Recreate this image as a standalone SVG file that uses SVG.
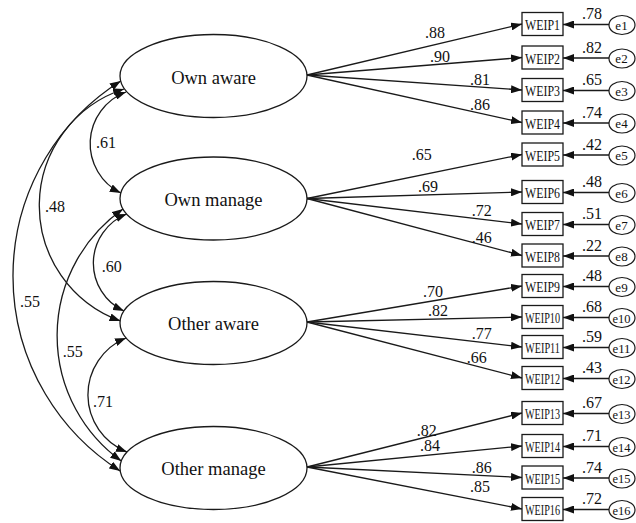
<svg xmlns="http://www.w3.org/2000/svg" width="636" height="523" viewBox="0 0 636 523" font-family="'Liberation Serif', 'Times New Roman', serif">
<style>
text{font-family:'Liberation Serif','Times New Roman',serif;fill:#111}
.lat ellipse{fill:#fff;stroke:#1a1a1a;stroke-width:1.3}
.lat text{font-size:18.5px;text-anchor:middle}
.obs rect{fill:#fff;stroke:#1a1a1a;stroke-width:1.3}
.obs text{font-size:15.5px;text-anchor:middle}
.err ellipse{fill:#fff;stroke:#1a1a1a;stroke-width:1.2}
.err text{font-size:13px;text-anchor:middle}
.c path,.c line{fill:none;stroke:#1a1a1a;stroke-width:1.3;marker-end:url(#ah)}
.c path.cov{marker-start:url(#ah)}
.lbl text{font-size:16px}
</style>
<defs>
<marker id="ah" markerUnits="userSpaceOnUse" markerWidth="12" markerHeight="8" refX="11" refY="4" orient="auto-start-reverse" viewBox="0 0 12 8">
<path d="M0,0 L11,4 L0,8 Z" fill="#111"/>
</marker>
</defs>

<g id="connectors" class="c">
<line x1="307" y1="75" x2="522" y2="24"/>
<line x1="307" y1="75" x2="522" y2="57.5"/>
<line x1="307" y1="75" x2="522" y2="90"/>
<line x1="307" y1="75" x2="522" y2="122.5"/>
<line x1="307" y1="198.5" x2="522" y2="154.5"/>
<line x1="307" y1="198.5" x2="522" y2="192"/>
<line x1="307" y1="198.5" x2="522" y2="224"/>
<line x1="307" y1="198.5" x2="522" y2="255.5"/>
<line x1="307" y1="322" x2="522" y2="286"/>
<line x1="307" y1="322" x2="522" y2="317"/>
<line x1="307" y1="322" x2="522" y2="347"/>
<line x1="307" y1="322" x2="522" y2="378"/>
<line x1="307" y1="467" x2="522" y2="413"/>
<line x1="307" y1="467" x2="522" y2="446"/>
<line x1="307" y1="467" x2="522" y2="477.5"/>
<line x1="307" y1="467" x2="522" y2="509"/>
<line x1="609" y1="24.5" x2="563" y2="24.5"/>
<line x1="609" y1="58" x2="563" y2="58"/>
<line x1="609" y1="90.5" x2="563" y2="90.5"/>
<line x1="609" y1="123" x2="563" y2="123"/>
<line x1="609" y1="155" x2="563" y2="155"/>
<line x1="609" y1="192.5" x2="563" y2="192.5"/>
<line x1="609" y1="224.5" x2="563" y2="224.5"/>
<line x1="609" y1="256" x2="563" y2="256"/>
<line x1="609" y1="286.5" x2="563" y2="286.5"/>
<line x1="609" y1="317.5" x2="563" y2="317.5"/>
<line x1="609" y1="347.5" x2="563" y2="347.5"/>
<line x1="609" y1="378.5" x2="563" y2="378.5"/>
<line x1="609" y1="413.5" x2="563" y2="413.5"/>
<line x1="609" y1="446.5" x2="563" y2="446.5"/>
<line x1="609" y1="478" x2="563" y2="478"/>
<line x1="609" y1="509.5" x2="563" y2="509.5"/>
<path class="cov" d="M120.8,81 A230.6,230.6 0 0 0 120.2,471"/>
<path class="cov" d="M124,89 A122.6,122.6 0 0 0 120.5,321"/>
<path class="cov" d="M126,92 A55.1,55.1 0 0 0 120.8,193"/>
<path class="cov" d="M123,209 A154.6,154.6 0 0 0 121.3,461"/>
<path class="cov" d="M126.7,214 A52.8,52.8 0 0 0 124,311"/>
<path class="cov" d="M126,338 A61.4,61.4 0 0 0 127,452"/>
</g>

<g id="labels" class="lbl">
<text x="425" y="37.7">.88</text>
<text x="430" y="61.7">.90</text>
<text x="470" y="85">.81</text>
<text x="470" y="110">.86</text>
<text x="411.7" y="160">.65</text>
<text x="418" y="191.5">.69</text>
<text x="471.7" y="216">.72</text>
<text x="471.7" y="242.5">.46</text>
<text x="423" y="296.5">.70</text>
<text x="428" y="316">.82</text>
<text x="471.7" y="339">.77</text>
<text x="466.7" y="363">.66</text>
<text x="416.7" y="436">.82</text>
<text x="420" y="451">.84</text>
<text x="471.7" y="473.3">.86</text>
<text x="470" y="491.7">.85</text>
<text x="582" y="19">.78</text>
<text x="582" y="52.5">.82</text>
<text x="582" y="85">.65</text>
<text x="582" y="117.5">.74</text>
<text x="582" y="149.5">.42</text>
<text x="582" y="187">.48</text>
<text x="582" y="219">.51</text>
<text x="582" y="250.5">.22</text>
<text x="582" y="281">.48</text>
<text x="582" y="312">.68</text>
<text x="582" y="342">.59</text>
<text x="582" y="373">.43</text>
<text x="582" y="408">.67</text>
<text x="582" y="441">.71</text>
<text x="582" y="472.5">.74</text>
<text x="582" y="504">.72</text>
<text x="96" y="148">.61</text>
<text x="45" y="212">.48</text>
<text x="20" y="307">.55</text>
<text x="101.7" y="272">.60</text>
<text x="62.7" y="357">.55</text>
<text x="93" y="407">.71</text>
</g>

<g id="own-aware" class="lat"><ellipse cx="213.5" cy="76" rx="93.5" ry="41.5"/><text x="213.5" y="84">Own aware</text></g>
<g id="own-manage" class="lat"><ellipse cx="213.5" cy="198.5" rx="93.5" ry="41.5"/><text x="213.5" y="206">Own manage</text></g>
<g id="other-aware" class="lat"><ellipse cx="213.5" cy="323" rx="93.5" ry="41.5"/><text x="213.5" y="330">Other aware</text></g>
<g id="other-manage" class="lat"><ellipse cx="213.5" cy="468" rx="93.5" ry="41.5"/><text x="213.5" y="475">Other manage</text></g>

<g id="WEIP1" class="obs"><rect x="522" y="12.5" width="41" height="23"/><text x="542.5" y="30" textLength="35" lengthAdjust="spacingAndGlyphs">WEIP1</text></g>
<g id="WEIP2" class="obs"><rect x="522" y="46" width="41" height="23"/><text x="542.5" y="63.5" textLength="35" lengthAdjust="spacingAndGlyphs">WEIP2</text></g>
<g id="WEIP3" class="obs"><rect x="522" y="78.5" width="41" height="23"/><text x="542.5" y="96" textLength="35" lengthAdjust="spacingAndGlyphs">WEIP3</text></g>
<g id="WEIP4" class="obs"><rect x="522" y="111" width="41" height="23"/><text x="542.5" y="128.5" textLength="35" lengthAdjust="spacingAndGlyphs">WEIP4</text></g>
<g id="WEIP5" class="obs"><rect x="522" y="143" width="41" height="23"/><text x="542.5" y="160.5" textLength="35" lengthAdjust="spacingAndGlyphs">WEIP5</text></g>
<g id="WEIP6" class="obs"><rect x="522" y="180.5" width="41" height="23"/><text x="542.5" y="198" textLength="35" lengthAdjust="spacingAndGlyphs">WEIP6</text></g>
<g id="WEIP7" class="obs"><rect x="522" y="212.5" width="41" height="23"/><text x="542.5" y="230" textLength="35" lengthAdjust="spacingAndGlyphs">WEIP7</text></g>
<g id="WEIP8" class="obs"><rect x="522" y="244" width="41" height="23"/><text x="542.5" y="261.5" textLength="35" lengthAdjust="spacingAndGlyphs">WEIP8</text></g>
<g id="WEIP9" class="obs"><rect x="522" y="274.5" width="41" height="23"/><text x="542.5" y="292" textLength="35" lengthAdjust="spacingAndGlyphs">WEIP9</text></g>
<g id="WEIP10" class="obs"><rect x="522" y="305.5" width="41" height="23"/><text x="542.5" y="323" textLength="35" lengthAdjust="spacingAndGlyphs">WEIP10</text></g>
<g id="WEIP11" class="obs"><rect x="522" y="335.5" width="41" height="23"/><text x="542.5" y="353" textLength="35" lengthAdjust="spacingAndGlyphs">WEIP11</text></g>
<g id="WEIP12" class="obs"><rect x="522" y="366.5" width="41" height="23"/><text x="542.5" y="384" textLength="35" lengthAdjust="spacingAndGlyphs">WEIP12</text></g>
<g id="WEIP13" class="obs"><rect x="522" y="401.5" width="41" height="23"/><text x="542.5" y="419" textLength="35" lengthAdjust="spacingAndGlyphs">WEIP13</text></g>
<g id="WEIP14" class="obs"><rect x="522" y="434.5" width="41" height="23"/><text x="542.5" y="452" textLength="35" lengthAdjust="spacingAndGlyphs">WEIP14</text></g>
<g id="WEIP15" class="obs"><rect x="522" y="466" width="41" height="23"/><text x="542.5" y="483.5" textLength="35" lengthAdjust="spacingAndGlyphs">WEIP15</text></g>
<g id="WEIP16" class="obs"><rect x="522" y="497.5" width="41" height="23"/><text x="542.5" y="515" textLength="35" lengthAdjust="spacingAndGlyphs">WEIP16</text></g>

<g id="e1" class="err"><ellipse cx="622" cy="25" rx="13" ry="9.5"/><text x="621.5" y="29.5">e1</text></g>
<g id="e2" class="err"><ellipse cx="622" cy="58.5" rx="13" ry="9.5"/><text x="621.5" y="63">e2</text></g>
<g id="e3" class="err"><ellipse cx="622" cy="91" rx="13" ry="9.5"/><text x="621.5" y="95.5">e3</text></g>
<g id="e4" class="err"><ellipse cx="622" cy="123.5" rx="13" ry="9.5"/><text x="621.5" y="128">e4</text></g>
<g id="e5" class="err"><ellipse cx="622" cy="155.5" rx="13" ry="9.5"/><text x="621.5" y="160">e5</text></g>
<g id="e6" class="err"><ellipse cx="622" cy="193" rx="13" ry="9.5"/><text x="621.5" y="197.5">e6</text></g>
<g id="e7" class="err"><ellipse cx="622" cy="225" rx="13" ry="9.5"/><text x="621.5" y="229.5">e7</text></g>
<g id="e8" class="err"><ellipse cx="622" cy="256.5" rx="13" ry="9.5"/><text x="621.5" y="261">e8</text></g>
<g id="e9" class="err"><ellipse cx="622" cy="287" rx="13" ry="9.5"/><text x="621.5" y="291.5">e9</text></g>
<g id="e10" class="err"><ellipse cx="622" cy="318" rx="13" ry="9.5"/><text x="621.5" y="322.5" textLength="18" lengthAdjust="spacingAndGlyphs">e10</text></g>
<g id="e11" class="err"><ellipse cx="622" cy="348" rx="13" ry="9.5"/><text x="621.5" y="352.5" textLength="18" lengthAdjust="spacingAndGlyphs">e11</text></g>
<g id="e12" class="err"><ellipse cx="622" cy="379" rx="13" ry="9.5"/><text x="621.5" y="383.5" textLength="18" lengthAdjust="spacingAndGlyphs">e12</text></g>
<g id="e13" class="err"><ellipse cx="622" cy="414" rx="13" ry="9.5"/><text x="621.5" y="418.5" textLength="18" lengthAdjust="spacingAndGlyphs">e13</text></g>
<g id="e14" class="err"><ellipse cx="622" cy="447" rx="13" ry="9.5"/><text x="621.5" y="451.5" textLength="18" lengthAdjust="spacingAndGlyphs">e14</text></g>
<g id="e15" class="err"><ellipse cx="622" cy="478.5" rx="13" ry="9.5"/><text x="621.5" y="483" textLength="18" lengthAdjust="spacingAndGlyphs">e15</text></g>
<g id="e16" class="err"><ellipse cx="622" cy="510" rx="13" ry="9.5"/><text x="621.5" y="514.5" textLength="18" lengthAdjust="spacingAndGlyphs">e16</text></g>
</svg>
